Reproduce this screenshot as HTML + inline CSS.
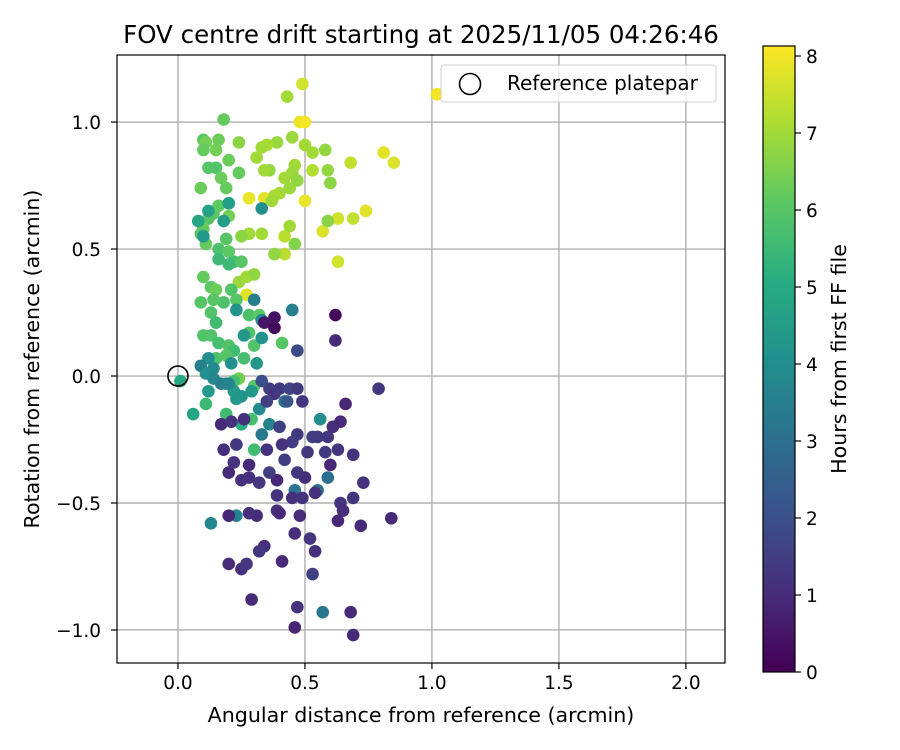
<!DOCTYPE html>
<html><head><meta charset="utf-8"><style>
html,body{margin:0;padding:0;background:#fff;}
svg{display:block;font-family:"DejaVu Sans","Liberation Sans",sans-serif;}
</style></head><body>
<svg id="chart" width="900" height="750">
<defs><linearGradient id="vir" x1="0" y1="1" x2="0" y2="0">
<stop offset="0" stop-color="#440154"/><stop offset="0.125" stop-color="#472c7a"/><stop offset="0.25" stop-color="#3b518b"/><stop offset="0.375" stop-color="#2c718e"/><stop offset="0.5" stop-color="#21908d"/><stop offset="0.625" stop-color="#27ad81"/><stop offset="0.75" stop-color="#5cc863"/><stop offset="0.875" stop-color="#aadc32"/><stop offset="1" stop-color="#fde725"/></linearGradient></defs>
<g id="grid"></g><g id="pts"></g><g id="axes"></g>
<text x="421" y="43" text-anchor="middle" font-size="24.5">FOV centre drift starting at 2025/11/05 04:26:46</text>
<text x="421" y="722" text-anchor="middle" font-size="20.6">Angular distance from reference (arcmin)</text>
<text x="39" y="359" text-anchor="middle" font-size="20.6" transform="rotate(-90 39 359)">Rotation from reference (arcmin)</text>
<text x="846" y="359" text-anchor="middle" font-size="20.6" transform="rotate(-90 846 359)">Hours from first FF file</text>
<g>
<rect x="441" y="65" width="275" height="37" rx="3" fill="#fff" fill-opacity="0.8" stroke="#d0d0d0"/>
<circle cx="470" cy="84" r="10.5" fill="none" stroke="#000" stroke-width="1.6"/>
<text x="507" y="90" font-size="20">Reference platepar</text>
</g>
</svg>
<script>
const xs = [1.02,0.49,0.48,0.50,0.81,0.85,0.68,0.74,0.63,0.69,0.57,0.63,0.28,0.34,0.50,0.27,0.42,0.42,0.53,
0.43,0.45,0.50,0.53,0.58,0.39,0.35,0.33,0.31,0.24,0.36,0.34,0.46,0.45,0.47,0.42,0.40,0.38,0.37,0.44,0.59,0.60,0.59,0.44,0.46,0.38,0.33,0.28,0.25,0.27,0.24,0.30,
0.18,0.10,0.11,0.10,0.15,0.16,0.12,0.15,0.20,0.17,0.19,0.24,0.09,0.14,0.16,0.20,0.20,0.12,0.10,0.09,0.11,0.16,0.19,0.20,0.22,0.25,0.20,0.16,0.10,0.13,0.15,0.21,0.23,0.18,0.14,0.09,0.13,0.15,0.10,0.13,0.16,0.20,0.28,0.28,0.32,0.30,0.41,0.22,0.15,0.19,0.26,0.30,0.24,0.22,0.19,0.29,0.30,0.25,0.11,
0.33,0.20,0.18,0.08,0.10,0.12,0.26,0.23,0.30,0.33,0.33,0.45,0.12,0.09,0.14,0.21,0.31,0.11,0.14,0.01,0.06,0.12,0.22,0.25,0.32,0.33,0.36,0.13,0.23,0.17,0.20,0.23,0.56,0.29,0.42,0.46,0.55,0.57,0.59,0.19,
0.47,0.34,0.47,0.51,0.36,0.33,0.38,0.40,0.44,0.47,0.35,0.43,0.49,0.53,0.59,0.61,0.64,0.58,0.63,0.60,0.45,0.41,0.42,0.47,0.50,0.54,0.39,0.39,0.45,0.49,0.48,0.46,0.52,0.54,0.53,0.64,0.65,0.63,0.73,0.72,0.69,0.69,0.84,0.79,0.66,0.28,0.28,0.22,0.20,0.23,0.18,0.17,0.21,0.25,0.32,0.36,0.31,0.28,0.20,0.39,0.40,0.41,0.34,0.32,0.20,0.25,0.27,0.29,0.47,0.46,0.69,0.68,0.38,0.38,0.62,0.62,0.55,0.35,0.40,0.26];
const ys = [1.11,1.15,1.0,1.0,0.88,0.84,0.84,0.65,0.62,0.62,0.57,0.45,0.70,0.70,0.69,0.32,0.55,0.48,0.81,
1.10,0.94,0.91,0.88,0.89,0.92,0.91,0.90,0.86,0.92,0.81,0.81,0.83,0.80,0.77,0.78,0.72,0.71,0.69,0.74,0.81,0.76,0.61,0.59,0.52,0.48,0.56,0.56,0.55,0.39,0.37,0.40,
1.01,0.93,0.92,0.89,0.89,0.93,0.82,0.82,0.85,0.78,0.74,0.80,0.74,0.64,0.67,0.68,0.63,0.62,0.58,0.56,0.52,0.50,0.54,0.49,0.45,0.45,0.44,0.46,0.39,0.35,0.34,0.34,0.30,0.29,0.30,0.29,0.25,0.21,0.16,0.16,0.13,0.12,0.24,0.17,0.24,0.12,0.13,0.10,0.07,0.08,0.07,-0.04,-0.01,-0.02,-0.15,-0.17,-0.29,-0.19,-0.11,
0.66,0.68,0.61,0.61,0.55,0.65,0.16,0.26,0.30,0.22,0.15,0.26,0.07,0.04,0.03,0.05,0.05,0.01,-0.01,-0.02,-0.15,-0.06,-0.06,-0.08,-0.13,-0.23,-0.19,-0.58,-0.55,-0.03,-0.03,-0.09,-0.17,-0.06,-0.10,-0.45,-0.45,-0.93,-0.40,-0.03,
0.10,0.21,-0.23,-0.30,-0.05,-0.02,-0.07,-0.05,-0.05,-0.05,-0.10,-0.10,-0.10,-0.24,-0.24,-0.20,-0.18,-0.30,-0.29,-0.35,-0.26,-0.27,-0.33,-0.38,-0.40,-0.46,-0.41,-0.47,-0.48,-0.48,-0.55,-0.62,-0.64,-0.69,-0.78,-0.50,-0.53,-0.57,-0.42,-0.59,-0.48,-0.31,-0.56,-0.05,-0.11,-0.35,-0.40,-0.34,-0.38,-0.27,-0.29,-0.19,-0.18,-0.41,-0.42,-0.38,-0.55,-0.54,-0.55,-0.53,-0.54,-0.73,-0.67,-0.69,-0.74,-0.76,-0.74,-0.88,-0.91,-0.99,-1.02,-0.93,0.19,0.23,0.24,0.14,-0.24,-0.29,-0.20,-0.17];
const hours = [8.0,7.6,7.9,8.0,7.8,7.7,7.4,7.8,7.6,7.4,7.7,7.6,7.9,7.8,7.9,7.8,7.3,7.3,7.2,
7.0,6.9,7.0,7.0,6.8,6.9,7.1,7.0,7.0,6.7,6.8,7.0,7.0,6.9,6.8,7.0,7.0,7.1,7.0,6.9,6.8,6.7,6.7,7.0,6.6,6.8,7.0,7.0,6.7,7.0,6.9,6.8,
6.2,6.1,6.4,6.2,6.4,6.3,6.0,5.9,6.3,6.3,6.2,6.2,6.3,6.0,6.1,6.2,6.4,6.0,6.2,6.0,6.2,5.8,6.0,6.1,5.7,6.0,5.5,5.5,6.2,6.1,6.3,5.9,6.0,5.8,6.0,6.0,5.9,5.6,5.9,5.9,5.7,5.9,5.8,5.9,6.1,5.9,6.0,5.6,5.8,6.0,5.7,6.0,6.4,5.7,5.6,5.7,5.6,5.1,5.5,
4.0,4.6,4.5,4.8,4.4,4.7,4.3,4.2,3.5,3.8,4.2,3.5,4.0,3.5,3.9,4.1,4.3,4.0,3.8,4.8,4.8,4.4,4.4,4.2,3.9,3.3,3.6,3.7,3.6,3.4,3.9,4.3,4.0,4.3,3.2,3.1,3.0,3.2,3.0,3.6,
1.8,0.5,1.4,1.3,1.5,2.0,1.2,1.4,1.7,1.4,1.5,2.2,1.3,1.6,1.3,1.1,1.0,1.4,1.3,0.9,1.5,1.2,1.5,1.3,1.1,1.1,0.9,1.2,1.1,1.2,1.0,1.1,1.3,1.1,1.5,1.2,1.1,0.9,1.2,1.0,1.3,1.2,1.0,1.3,0.9,1.0,1.1,1.2,1.0,1.3,1.1,1.0,1.2,1.1,1.3,1.5,1.0,1.1,0.9,1.2,1.0,1.0,1.1,1.3,1.0,1.1,1.3,1.0,1.2,0.9,1.0,1.0,0.2,0.4,0.2,1.0,1.4,1.2,1.6,1.1];
const xTicks = [0.0,0.5,1.0,1.5,2.0];
const yTicks = [1.0,0.5,0.0,-0.5,-1.0];
const cTicks = [0,1,2,3,4,5,6,7,8];

const NS="http://www.w3.org/2000/svg";
const L=117,R=725,T=55,B=663;
const xMin=-0.24,xMax=2.154,yMin=-1.13,yMax=1.264;
const X=v=>L+(v-xMin)/(xMax-xMin)*(R-L);
const Y=v=>B-(v-yMin)/(yMax-yMin)*(B-T);
const CT=46,CB=672,cMax=8.13;
const CY=v=>CB-v/cMax*(CB-CT);
const vstops=[[68,1,84],[71,44,122],[59,81,139],[44,113,142],[33,144,141],[39,173,129],[92,200,99],[170,220,50],[253,231,37]];
function viridis(t){t=Math.max(0,Math.min(1,t));const s=t*8,i=Math.min(7,Math.floor(s)),f=s-i;const a=vstops[i],b=vstops[i+1];return `rgb(${a.map((c,k)=>Math.round(c+(b[k]-c)*f)).join(',')})`;}
function mk(tag,attrs,parent){const e=document.createElementNS(NS,tag);for(const k in attrs)e.setAttribute(k,attrs[k]);parent.appendChild(e);return e;}
const grid=document.getElementById('grid'),pts=document.getElementById('pts'),axes=document.getElementById('axes');
const fmt=v=>(v<0?'−':'')+Math.abs(v).toFixed(1);

xTicks.forEach(v=>{const l=mk('line',{x1:X(v),x2:X(v),y1:T,y2:B,stroke:'#b0b0b0','stroke-width':1.4},grid);

mk('line',{x1:X(v),x2:X(v),y1:B,y2:B+6,stroke:'#000','stroke-width':1.2},axes);
const t=mk('text',{x:X(v),y:B+26,'text-anchor':'middle','font-size':18.5},axes);t.textContent=fmt(v);
});
yTicks.forEach(v=>{const l=mk('line',{x1:L,x2:R,y1:Y(v),y2:Y(v),stroke:'#b0b0b0','stroke-width':1.4},grid);

mk('line',{x1:L-6,x2:L,y1:Y(v),y2:Y(v),stroke:'#000','stroke-width':1.2},axes);
const t=mk('text',{x:L-16,y:Y(v)+7,'text-anchor':'end','font-size':18.5},axes);t.textContent=fmt(v);
});

xs.forEach((x,i)=>{const c=mk('circle',{cx:X(x),cy:Y(ys[i]),r:6.3,fill:viridis(hours[i]/cMax)},pts);
});
const ref=mk('circle',{cx:X(0),cy:Y(0),r:10,fill:'none',stroke:'#000','stroke-width':1.6},pts);


const fr=mk('rect',{x:L,y:T,width:R-L,height:B-T,fill:'none',stroke:'#000','stroke-width':1.2},axes);


const cb=mk('rect',{x:763,y:CT,width:32,height:CB-CT,fill:'url(#vir)',stroke:'#000','stroke-width':1.2},axes);

cTicks.forEach(v=>{mk('line',{x1:795,x2:801,y1:CY(v),y2:CY(v),stroke:'#000','stroke-width':1.2},axes);
const t=mk('text',{x:806,y:CY(v)+7,'font-size':18.5},axes);t.textContent=v;
});
</script>
</body></html>
